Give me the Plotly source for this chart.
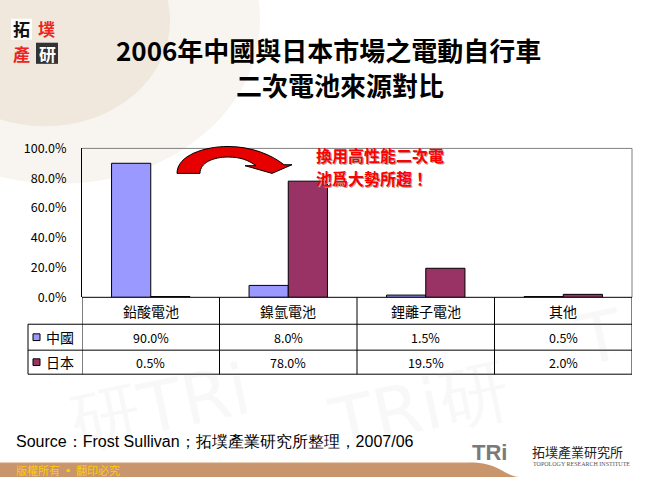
import plotly.graph_objects as go

W, H = 650, 485

# ---------------- data ----------------
categories = ["鉛酸電池", "鎳氫電池", "鋰離子電池", "其他"]
series_names = ["中國", "日本"]
china = [0.900, 0.080, 0.015, 0.005]
japan = [0.005, 0.780, 0.195, 0.020]
china_labels = ["90.0%", "8.0%", "1.5%", "0.5%"]
japan_labels = ["0.5%", "78.0%", "19.5%", "2.0%"]
series_colors = ["#9999FF", "#993366"]
title_lines = ["2006年中國與日本市場之電動自行車", "二次電池來源對比"]
callout_lines = ["換用高性能二次電", "池爲大勢所趨！"]
source_text = "Source：Frost Sullivan；拓墣產業研究所整理，2007/06"
footer_text = "版權所有 ▪ 翻印必究"

CJK = "Noto Sans CJK TC"


def X(px):
    return px / W


def Y(py):
    return 1 - py / H


PL, PR, PT, PB = 82, 632, 143, 298
TAB_L = 28
ROW_Y = [298, 326, 353, 378]

fig = go.Figure()
for name, vals, col in zip(series_names, [china, japan], series_colors):
    fig.add_trace(go.Bar(x=categories, y=vals, name=name,
                         marker=dict(color=col, line=dict(color="black", width=1)),
                         hoverinfo="skip"))

shapes = []
annotations = []

# ---- background decorations ----
shapes.append(dict(type="circle", xref="paper", yref="paper",
                   x0=X(-140), x1=X(260), y0=Y(180), y1=Y(-160),
                   fillcolor="rgba(222,205,180,0.22)", line=dict(width=0), layer="below"))
shapes.append(dict(type="circle", xref="paper", yref="paper",
                   x0=X(-80), x1=X(170), y0=Y(120), y1=Y(-100),
                   fillcolor="rgba(215,195,165,0.25)", line=dict(width=0), layer="below"))

for (tx, ty, txt) in [(160, 412, "研TRi"), (420, 412, "TRi研"), (600, 340, "T")]:
    annotations.append(dict(xref="paper", yref="paper", x=X(tx), y=Y(ty), text=txt,
                            showarrow=False, textangle=-12,
                            font=dict(family="DejaVu Sans", size=70, color="rgba(150,150,150,0.07)"),
                            xanchor="center", yanchor="middle"))

# footer bar
path = (f"M {X(0)},{Y(470)} L {X(470)},{Y(470)} C {X(500)},{Y(470)} {X(505)},{Y(485)} {X(520)},{Y(485)} "
        f"L {X(0)},{Y(485)} Z")
shapes.append(dict(type="path", xref="paper", yref="paper", path=path,
                   fillcolor="#C9956C", line=dict(width=0)))
shapes.append(dict(type="line", xref="paper", yref="paper", x0=X(0), x1=X(470),
                   y0=Y(470), y1=Y(470), line=dict(color="#E8CDB4", width=1)))
annotations.append(dict(xref="paper", yref="paper", x=X(14), y=Y(478), text=footer_text,
                        showarrow=False, xanchor="left", yanchor="middle",
                        font=dict(family=CJK, size=11, color="#FFCC00")))

# TRI logo
annotations.append(dict(xref="paper", yref="paper", x=X(470), y=Y(460), text="<b>TRi</b>",
                        showarrow=False, xanchor="left", yanchor="middle",
                        font=dict(family="Liberation Sans", size=22, color="#7A7A7A")))
annotations.append(dict(xref="paper", yref="paper", x=X(530), y=Y(458), text="拓墣產業研究所",
                        showarrow=False, xanchor="left", yanchor="middle",
                        font=dict(family=CJK, size=13, color="#222222")))
annotations.append(dict(xref="paper", yref="paper", x=X(531), y=Y(471), text="TOPOLOGY RESEARCH INSTITUTE",
                        showarrow=False, xanchor="left", yanchor="middle",
                        font=dict(family="Liberation Sans Narrow", size=6, color="#555555")))

# top-left logo
shapes.append(dict(type="rect", xref="paper", yref="paper", x0=X(11), x1=X(32),
                   y0=Y(30), y1=Y(8), fillcolor="rgba(255,255,255,0.9)", line=dict(width=0)))
shapes.append(dict(type="rect", xref="paper", yref="paper", x0=X(36), x1=X(58),
                   y0=Y(55), y1=Y(33), fillcolor="#333333", line=dict(width=0)))
logo = [("拓", 21.5, 18, "#111111"), ("墣", 46, 18, "#EE2222"),
        ("產", 21.5, 44, "#EE2222"), ("研", 47, 44, "#FFFFFF")]
for ch, lx, ly, col in logo:
    annotations.append(dict(xref="paper", yref="paper", x=X(lx), y=Y(ly), text=ch,
                            showarrow=False, xanchor="center", yanchor="middle", borderpad=0,
                            font=dict(family=CJK, size=17, color=col, weight="bold")))

# ---- title ----
annotations.append(dict(xref="paper", yref="paper", x=X(328), y=Y(40), text=title_lines[0],
                        showarrow=False, xanchor="center", yanchor="middle",
                        font=dict(family=CJK, size=26, color="black", weight="bold")))
annotations.append(dict(xref="paper", yref="paper", x=X(340), y=Y(76), text=title_lines[1],
                        showarrow=False, xanchor="center", yanchor="middle",
                        font=dict(family=CJK, size=26, color="black", weight="bold")))

# ---- plot-area border ----
shapes.append(dict(type="line", xref="paper", yref="paper", x0=X(PL), x1=X(PR),
                   y0=Y(PT), y1=Y(PT), line=dict(color="#808080", width=1)))
shapes.append(dict(type="line", xref="paper", yref="paper", x0=X(PR), x1=X(PR),
                   y0=Y(PT), y1=Y(PB), line=dict(color="#808080", width=1)))

# ---- data table ----
shapes.append(dict(type="line", xref="paper", yref="paper", x0=X(PL), x1=X(PR),
                   y0=Y(ROW_Y[0]), y1=Y(ROW_Y[0]), line=dict(color="black", width=1)))
for ry in ROW_Y[1:]:
    shapes.append(dict(type="line", xref="paper", yref="paper", x0=X(TAB_L), x1=X(PR),
                       y0=Y(ry), y1=Y(ry), line=dict(color="black", width=1)))
for i in range(len(categories) + 1):
    shapes.append(dict(type="line", xref="x", yref="paper", x0=i - 0.5, x1=i - 0.5,
                       y0=Y(ROW_Y[0]), y1=Y(ROW_Y[3]), line=dict(color="black", width=1)))
shapes.append(dict(type="line", xref="paper", yref="paper", x0=X(TAB_L), x1=X(TAB_L),
                   y0=Y(ROW_Y[1]), y1=Y(ROW_Y[3]), line=dict(color="black", width=1)))

row_font = dict(family=CJK, size=12.5, color="black")
for i, c in enumerate(categories):
    annotations.append(dict(xref="x", yref="paper", x=c, y=Y((ROW_Y[0] + ROW_Y[1]) / 2),
                            text=c, showarrow=False, xanchor="center", yanchor="middle",
                            font=dict(family=CJK, size=14, color="black")))
    annotations.append(dict(xref="x", yref="paper", x=c, y=Y((ROW_Y[1] + ROW_Y[2]) / 2),
                            text=china_labels[i], showarrow=False, xanchor="center",
                            yanchor="middle", font=row_font))
    annotations.append(dict(xref="x", yref="paper", x=c, y=Y((ROW_Y[2] + ROW_Y[3]) / 2),
                            text=japan_labels[i], showarrow=False, xanchor="center",
                            yanchor="middle", font=row_font))

for k, (name, col) in enumerate(zip(series_names, series_colors)):
    cy = (ROW_Y[k + 1] + ROW_Y[k + 2]) / 2
    shapes.append(dict(type="rect", xref="paper", yref="paper", x0=X(33), x1=X(40),
                       y0=Y(cy + 3.5), y1=Y(cy - 3.5), fillcolor=col,
                       line=dict(color="black", width=1)))
    annotations.append(dict(xref="paper", yref="paper", x=X(44), y=Y(cy), text=name,
                            showarrow=False, xanchor="left", yanchor="middle",
                            font=dict(family=CJK, size=14, color="black")))

# ---- curved arrow ----
arrow = (f"M {X(177)},{Y(169)} C {X(177)},{Y(150)} {X(205)},{Y(141)} {X(228)},{Y(141)} "
         f"C {X(252)},{Y(141)} {X(272)},{Y(150)} {X(284)},{Y(160)} "
         f"L {X(292)},{Y(160)} L {X(272)},{Y(169)} L {X(245)},{Y(161)} L {X(256)},{Y(161)} "
         f"C {X(248)},{Y(155)} {X(240)},{Y(152)} {X(228)},{Y(152)} "
         f"C {X(213)},{Y(152)} {X(200)},{Y(158)} {X(200)},{Y(169)} Z")
shapes.append(dict(type="path", xref="paper", yref="paper", path=arrow,
                   fillcolor="#E60000", line=dict(color="black", width=1)))

for j, line in enumerate(callout_lines):
    annotations.append(dict(xref="paper", yref="paper", x=X(315), y=Y(150 + j * 24), text=line,
                            showarrow=False, xanchor="left", yanchor="middle", borderpad=0,
                            font=dict(family=CJK, size=16, color="#FF0000", weight="bold",
                                      shadow="1px 1px 0px #B0A0A0")))

annotations.append(dict(xref="paper", yref="paper", x=X(14), y=Y(448), text=source_text,
                        showarrow=False, xanchor="left", yanchor="middle",
                        font=dict(family="Liberation Sans", size=16, color="black")))

fig.update_layout(
    width=W, height=H,
    margin=dict(l=0, r=0, t=0, b=0),
    paper_bgcolor="white", plot_bgcolor="rgba(255,255,255,1)",
    barmode="group", bargap=0.43, bargroupgap=0,
    showlegend=False,
    shapes=shapes, annotations=annotations,
    xaxis=dict(domain=[X(PL), X(PR)], range=[-0.5, 3.5], showticklabels=False,
               showline=False, showgrid=False, zeroline=False, ticks=""),
    yaxis=dict(domain=[Y(PB), Y(PT)], range=[0, 1], tickvals=[0, 0.2, 0.4, 0.6, 0.8, 1.0],
               tickformat=".1%", showgrid=False, zeroline=False, showline=True,
               linecolor="black", linewidth=1, ticks="", ticklabelstandoff=12,
               tickfont=dict(family=CJK, size=12.5, color="black")),
)

fig.write_html("out.html")
